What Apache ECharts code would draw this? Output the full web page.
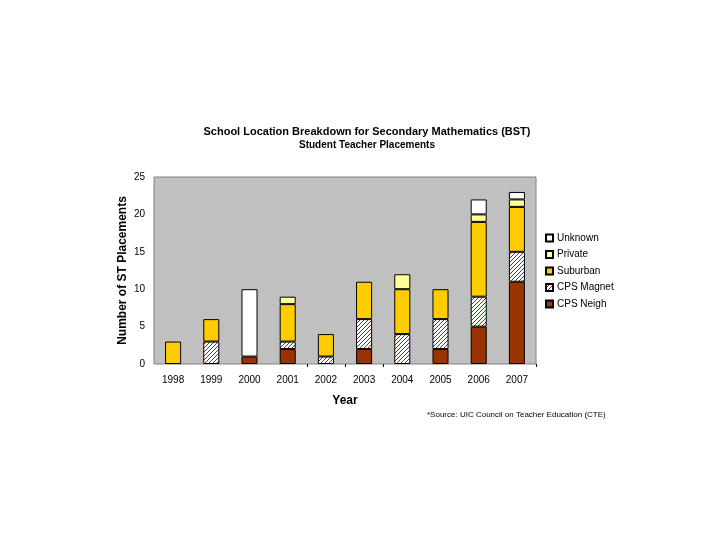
<!DOCTYPE html>
<html>
<head>
<meta charset="utf-8">
<script src="https://cdn.jsdelivr.net/npm/echarts@6/dist/echarts.min.js"></script>
<style>html,body{margin:0;padding:0;background:#fff;}#c{width:720px;height:540px;}</style>
</head>
<body>
<div id="c"></div>
<script>
var years = ['1998','1999','2000','2001','2002','2003','2004','2005','2006','2007'];
var cpsNeigh  = [0, 0, 1, 2, 0, 2, 0, 2, 5, 11];
var cpsMagnet = [0, 3, 0, 1, 1, 4, 4, 4, 4, 4];
var suburban  = [3, 3, 0, 5, 3, 5, 6, 4, 10, 6];
var privateS  = [0, 0, 0, 1, 0, 0, 2, 0, 1, 1];
var unknown   = [0, 0, 9, 0, 0, 0, 0, 0, 2, 1];
var yTicks = [0, 5, 10, 15, 20, 25];
var visibleTickYears = ['2002', '2003', '2004'];

var FONT = 'Liberation Sans, Arial, sans-serif';

// hatch pattern for CPS Magnet
var pc = document.createElement('canvas');
pc.width = 4; pc.height = 4;
var g = pc.getContext('2d');
g.fillStyle = '#ffffff'; g.fillRect(0,0,4,4);
g.strokeStyle = '#7a3518'; g.lineWidth = 1;
g.beginPath();
g.moveTo(0,4); g.lineTo(4,0);
g.moveTo(-1,1); g.lineTo(1,-1);
g.moveTo(3,5); g.lineTo(5,3);
g.stroke();
var hatch = {image: pc, repeat: 'repeat'};

function nz(a){ return a.map(function(v){ return v === 0 ? '-' : v; }); }

function mk(name, data, color){
  return {
    name: name, type: 'bar', stack: 'total', data: nz(data),
    barWidth: '42%',
    itemStyle: {color: color, borderColor: '#000', borderWidth: 1},
    emphasis: {disabled: true}
  };
}

var chart = echarts.init(document.getElementById('c'), null, {renderer: 'canvas'});
chart.setOption({
  animation: false,
  backgroundColor: '#ffffff',
  title: [{
    text: 'School Location Breakdown for Secondary Mathematics (BST)',
    subtext: 'Student Teacher Placements',
    left: 362, top: 121, textAlign: 'center',
    textStyle: {fontFamily: FONT, fontSize: 11, fontWeight: 'bold', color: '#000'},
    subtextStyle: {fontFamily: FONT, fontSize: 10, fontWeight: 'bold', color: '#000'},
    itemGap: 3
  }],
  grid: {
    left: 154, top: 177, width: 382, height: 187,
    show: true, backgroundColor: '#C0C0C0', borderColor: '#808080', borderWidth: 1
  },
  legend: {
    orient: 'vertical', left: 540, top: 227,
    itemWidth: 7, itemHeight: 7, itemGap: 4.5,
    data: ['Unknown','Private','Suburban','CPS Magnet','CPS Neigh'],
    textStyle: {fontFamily: FONT, fontSize: 10, color: '#000', lineHeight: 12, padding: [0,0,0,-1]},
    icon: 'rect'
  },
  xAxis: {
    type: 'category', data: years,
    axisLine: {show: false},
    axisTick: {
      show: true, length: 3,
      lineStyle: {color: '#000', width: 1},
      interval: function(index, value){ return visibleTickYears.indexOf(value) >= 0; }
    },
    axisLabel: {fontFamily: FONT, fontSize: 10, color: '#000', margin: 11, interval: 0},
    name: 'Year', nameLocation: 'middle', nameGap: 31,
    nameTextStyle: {fontFamily: FONT, fontSize: 12, fontWeight: 'bold', color: '#000'}
  },
  yAxis: {
    type: 'value', min: yTicks[0], max: yTicks[yTicks.length-1], interval: 5,
    splitLine: {show: false}, axisLine: {show: false}, axisTick: {show: false},
    axisLabel: {fontFamily: FONT, fontSize: 10, color: '#000', margin: 9},
    name: 'Number of ST Placements', nameLocation: 'middle', nameGap: 25, nameRotate: 90,
    nameMoveOverlap: false,
    nameTextStyle: {fontFamily: FONT, fontSize: 12, fontWeight: 'bold', color: '#000'}
  },
  graphic: [{
    type: 'text', left: 427, top: 411,
    style: {text: '*Source: UIC Council on Teacher Education (CTE)', font: '8px ' + FONT, fill: '#000'}
  }],
  series: [
    mk('CPS Neigh', cpsNeigh, '#993300'),
    mk('CPS Magnet', cpsMagnet, hatch),
    mk('Suburban', suburban, '#FFCC00'),
    mk('Private', privateS, '#FFFF99'),
    mk('Unknown', unknown, '#FFFFFF')
  ]
});
</script>
</body>
</html>
